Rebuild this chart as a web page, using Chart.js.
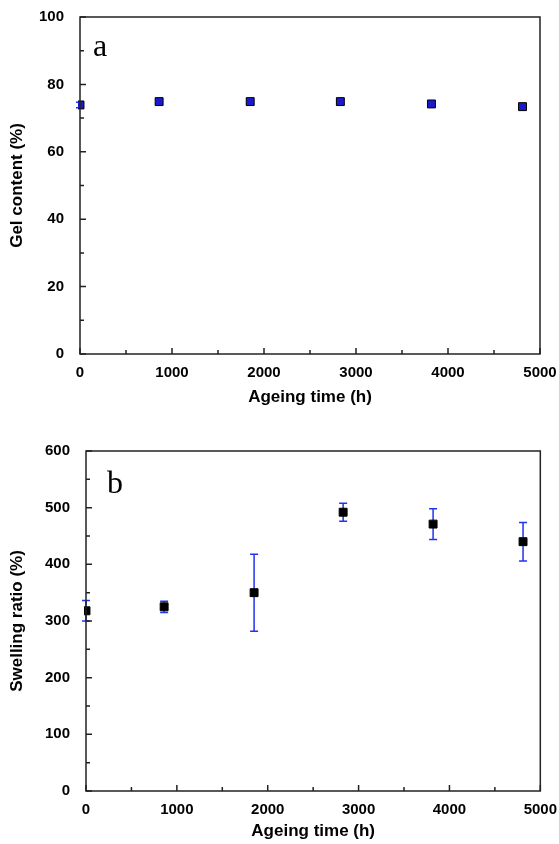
<!DOCTYPE html>
<html>
<head>
<meta charset="utf-8">
<script src="https://cdn.jsdelivr.net/npm/chart.js@4.4.0/dist/chart.umd.min.js"></script>
<style>
  html, body { margin: 0; padding: 0; background: #fff; }
  #wrap { position: relative; width: 559px; height: 844px; }
  .box { position: absolute; left: 0; width: 559px; }
</style>
</head>
<body>
<div id="wrap">
  <div class="box" style="top:0; height:408px;"><canvas id="gelChart"></canvas></div>
  <div class="box" style="top:430px; height:412px;"><canvas id="swellChart"></canvas></div>
</div>
<script>
// --- data ---
const ageingHours = [0, 860, 1850, 2830, 3820, 4810];

const gelContent = [73.9, 74.9, 74.9, 74.9, 74.2, 73.4];
const gelError   = [0.8, 0.8, 0.8, 0.8, 0.8, 0.8];

const swellingRatio = [318, 325, 350, 492, 471, 440];
const swellingError = [18, 10, 68, 16, 27, 34];

const xTicks = [0, 1000, 2000, 3000, 4000, 5000];
const gelTicks = [0, 20, 40, 60, 80, 100];
const swellTicks = [0, 100, 200, 300, 400, 500, 600];

const FONT = 'Arial, "Liberation Sans", sans-serif';

// --- helper plugin: inward ticks, frame, error bars, panel letter ---
const framePlugin = {
  id: 'frame',
  beforeDatasetsDraw(chart, args, opts) {
    const ctx = chart.ctx;
    const xs = chart.scales.x, ys = chart.scales.y;
    const ds = chart.data.datasets[0];
    ctx.save();
    ctx.strokeStyle = '#2233ee';
    ctx.lineWidth = 1.5;
    ds.data.forEach((p, i) => {
      const err = opts.errors[i];
      const px = xs.getPixelForValue(p.x);
      const top = ys.getPixelForValue(p.y + err);
      const bot = ys.getPixelForValue(p.y - err);
      ctx.beginPath();
      ctx.moveTo(px, top); ctx.lineTo(px, bot);
      ctx.moveTo(px - 4, top); ctx.lineTo(px + 4, top);
      ctx.moveTo(px - 4, bot); ctx.lineTo(px + 4, bot);
      ctx.stroke();
    });
    ctx.restore();
  },
  afterDraw(chart, args, opts) {
    const ctx = chart.ctx;
    const a = chart.chartArea;
    const xs = chart.scales.x, ys = chart.scales.y;
    ctx.save();
    ctx.strokeStyle = '#222';
    ctx.lineWidth = 1.5;
    ctx.strokeRect(a.left, a.top, a.right - a.left, a.bottom - a.top);
    ctx.beginPath();
    // x ticks (major + minor), pointing inward
    for (let v = xs.min; v <= xs.max; v += opts.xMinor) {
      const px = xs.getPixelForValue(v);
      const len = (v % opts.xMajor === 0) ? 6 : 4;
      ctx.moveTo(px, a.bottom); ctx.lineTo(px, a.bottom - len);
    }
    for (let v = ys.min; v <= ys.max; v += opts.yMinor) {
      const py = ys.getPixelForValue(v);
      const len = (v % opts.yMajor === 0) ? 6 : 4;
      ctx.moveTo(a.left, py); ctx.lineTo(a.left + len, py);
    }
    ctx.stroke();
    // panel letter
    ctx.fillStyle = '#000';
    ctx.font = '32px "Times New Roman", "Liberation Serif", serif';
    ctx.textBaseline = 'alphabetic';
    ctx.fillText(opts.letter, a.left + opts.letterDx, a.top + opts.letterDy);
    ctx.restore();
  }
};

function makeChart(canvasId, values, yTicks, yMax, yTitle, pointFill, axisW, axisH, padTop, padRight, frameOpts) {
  return new Chart(document.getElementById(canvasId), {
    type: 'scatter',
    data: {
      datasets: [{
        data: ageingHours.map((x, i) => ({ x: x, y: values[i] })),
        pointStyle: 'rect',
        pointRadius: 5.6,
        pointHoverRadius: 5.6,
        backgroundColor: pointFill,
        borderColor: '#000',
        borderWidth: 1,
        clip: { left: 2, right: 10, top: 10, bottom: 10 }
      }]
    },
    options: {
      responsive: true,
      maintainAspectRatio: false,
      animation: false,
      events: [],
      layout: { padding: { top: padTop, right: padRight, left: 0, bottom: 0 } },
      plugins: { legend: { display: false }, tooltip: { enabled: false }, frame: frameOpts },
      scales: {
        x: {
          type: 'linear', min: 0, max: 5000,
          afterBuildTicks: s => { s.ticks = xTicks.map(v => ({ value: v })); },
          grid: { display: false },
          border: { display: false },
          ticks: { color: '#000', font: { family: FONT, size: 15, weight: 'bold' }, padding: 2, maxRotation: 0,
                   callback: v => String(v) },
          title: { display: true, text: 'Ageing time (h)', color: '#000', font: { family: FONT, size: 17, weight: 'bold' }, padding: { top: 4, bottom: 0 } },
          afterFit: s => { s.height = axisH; }
        },
        y: {
          type: 'linear', min: 0, max: yMax,
          afterBuildTicks: s => { s.ticks = yTicks.map(v => ({ value: v })); },
          grid: { display: false },
          border: { display: false },
          ticks: { color: '#000', font: { family: FONT, size: 15, weight: 'bold' }, padding: 8,
                   callback: v => String(v) },
          title: { display: true, text: yTitle, color: '#000', font: { family: FONT, size: 17, weight: 'bold' }, padding: { top: 7, bottom: 4 } },
          afterFit: s => { s.width = axisW; }
        }
      }
    },
    plugins: [framePlugin]
  });
}

makeChart('gelChart', gelContent, gelTicks, 100, 'Gel content (%)', '#1a1acc', 80, 54, 14, 19,
  { errors: gelError, xMajor: 1000, xMinor: 500, yMajor: 20, yMinor: 10, letter: 'a', letterDx: 13, letterDy: 39 });

makeChart('swellChart', swellingRatio, swellTicks, 600, 'Swelling ratio (%)', '#000', 86, 51, 21, 16,
  { errors: swellingError, xMajor: 1000, xMinor: 500, yMajor: 100, yMinor: 50, letter: 'b', letterDx: 21, letterDy: 42 });
</script>
</body>
</html>
